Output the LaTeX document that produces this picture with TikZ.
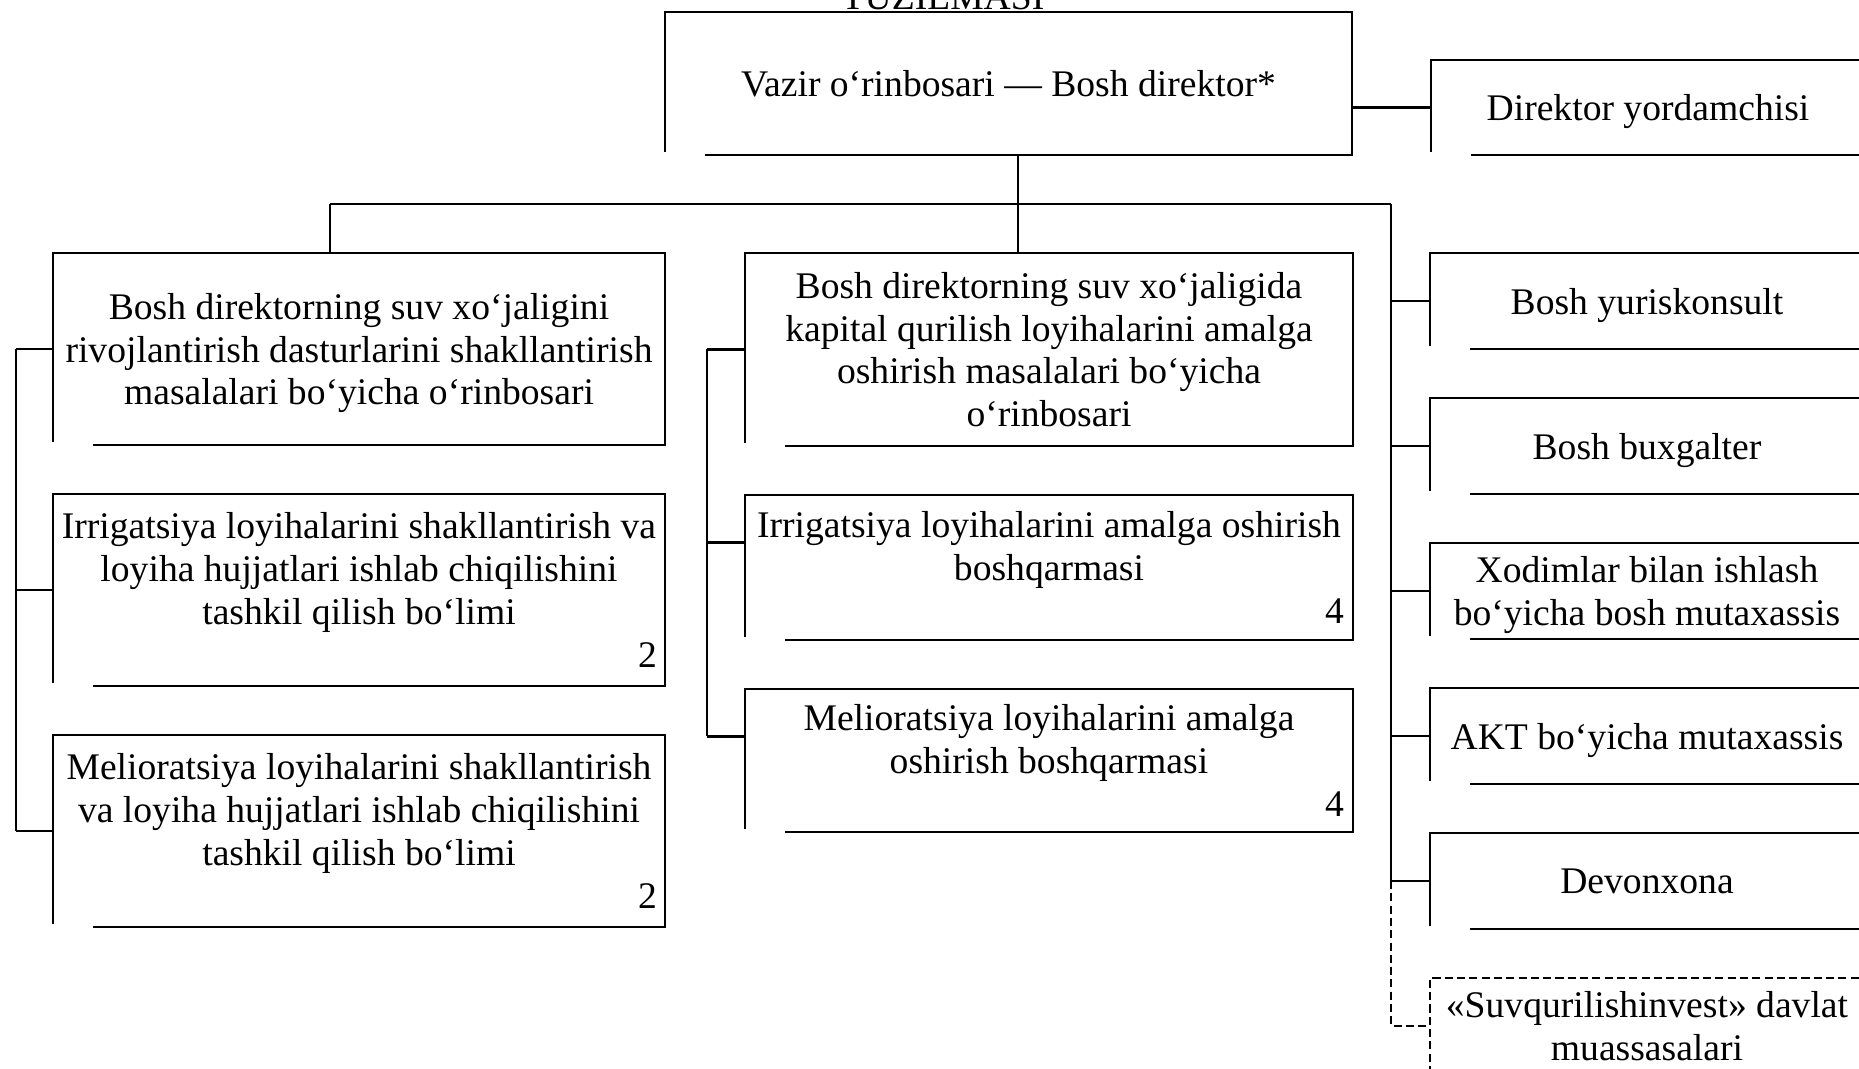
\documentclass[tikz,border=0pt]{standalone}
\usepackage{fontspec}
\setmainfont{Liberation Serif}
\usetikzlibrary{positioning,calc}

\begin{document}
\begin{tikzpicture}[
    node distance=0.49cm,
    box/.style={rectangle, inner sep=0pt, outer sep=0pt, text depth=0pt, align=center, font=\fontsize{10.7}{12.2}\selectfont},
    lbox/.style={box, minimum width=6.12cm, minimum height=1.92cm},
    mbox/.style={box, minimum width=6.08cm},
    rbox/.style={box, minimum width=4.34cm, minimum height=0.96cm},
    link/.style={line width=0.8pt},
    dlink/.style={link, dash pattern=on 2.3pt off 1.2pt}
]
\useasboundingbox (0,0) rectangle (18.59,-10.69);
\clip (0,0) rectangle (18.59,-10.69);

% Head
\node[box, anchor=base] (title) at (9.43,-0.10) {TUZILMASI};
\node[box, minimum width=6.87cm, minimum height=1.43cm] (top) at (10.085,-0.835) {Vazir o‘rinbosari — Bosh direktor*};
\node[rbox, minimum height=0.95cm, anchor=south west] (dir) at ([xshift=0.79cm]top.south east) {Direktor yordamchisi};

% Left column
\node[lbox, anchor=north] (l1) at (3.59,-2.53) {Bosh direktorning suv xo‘jaligini\\ rivojlantirish dasturlarini shakllantirish\\ masalalari bo‘yicha o‘rinbosari};
\node[lbox, below=of l1] (l2) {Irrigatsiya loyihalarini shakllantirish va\\ loyiha hujjatlari ishlab chiqilishini\\ tashkil qilish bo‘limi\\ \makebox[5.96cm][r]{2}};
\node[lbox, below=of l2] (l3) {Melioratsiya loyihalarini shakllantirish\\ va loyiha hujjatlari ishlab chiqilishini\\ tashkil qilish bo‘limi\\ \makebox[5.96cm][r]{2}};

% Middle column
\node[mbox, minimum height=1.93cm, anchor=north] (m1) at (10.49,-2.53) {Bosh direktorning suv xo‘jaligida\\ kapital qurilish loyihalarini amalga\\ oshirish masalalari bo‘yicha\\ o‘rinbosari};
\node[mbox, minimum height=1.45cm, below=of m1] (m2) {Irrigatsiya loyihalarini amalga oshirish\\ boshqarmasi\\ \makebox[5.90cm][r]{4}};
\node[mbox, minimum height=1.43cm, below=of m2] (m3) {Melioratsiya loyihalarini amalga\\ oshirish boshqarmasi\\ \makebox[5.90cm][r]{4}};

% Right column
\node[rbox, anchor=north] (r1) at (16.47,-2.53) {Bosh yuriskonsult};
\node[rbox, below=of r1] (r2) {Bosh buxgalter};
\node[rbox, below=of r2] (r3) {Xodimlar bilan ishlash\\ bo‘yicha bosh mutaxassis};
\node[rbox, below=of r3] (r4) {AKT bo‘yicha mutaxassis};
\node[rbox, below=of r4] (r5) {Devonxona};
\node[rbox, below=of r5] (r6) {«Suvqurilishinvest» davlat\\ muassasalari};

% Box outlines
\foreach \b in {top,dir,l1,l2,l3,m1,m2,m3,r1,r2,r3,r4,r5}
  \draw[link] ([yshift=0.03cm]\b.south west) -- (\b.north west) -- (\b.north east) -- (\b.south east) -- ([xshift=0.40cm]\b.south west);
\draw[dlink] (r6.south west) -- (r6.north west) -- (r6.north east);

% Connectors
\coordinate (tj) at (10.18,-2.04);
\coordinate (bl) at (3.30,-2.04);
\coordinate (br) at (13.91,-2.04);
\coordinate (lb) at (0.16,-2.04);
\coordinate (mb) at (7.07,-2.04);
\coordinate (m2b) at ($(m2.north west)!0.33!(m2.south west)$);
\coordinate (m3b) at ($(m3.north west)!0.33!(m3.south west)$);

\draw[link] (dir.west -| top.east) -- (dir.west);
\draw[link] (top.south -| tj) -- (tj);
\draw[link] (bl) -- (br);
\draw[link] (bl) -- (bl |- l1.north);
\draw[link] (tj) -- (tj |- m1.north);
\draw[link] (br) -- (br |- r5);
\draw[dlink] (br |- r5) -- (br |- r6) -- (r6.west);
\foreach \r in {r1,r2,r3,r4,r5}
  \draw[link] (br |- \r) -- (\r.west);

\draw[link] (lb |- l1) -- (lb |- l3);
\foreach \b in {l1,l2,l3}
  \draw[link] (lb |- \b) -- (\b.west);

\draw[link] (mb |- m1) -- (mb |- m3b);
\draw[link] (mb |- m1) -- (m1.west);
\draw[link] (mb |- m2b) -- (m2b);
\draw[link] (mb |- m3b) -- (m3b);

\end{tikzpicture}
\end{document}
